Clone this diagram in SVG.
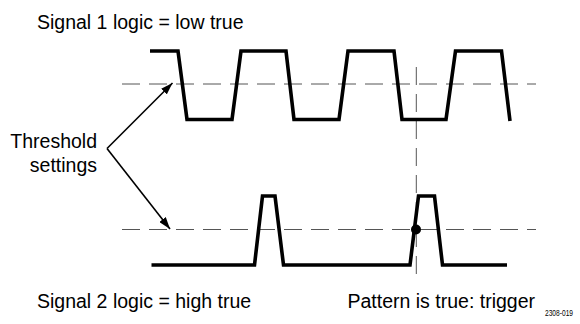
<svg xmlns="http://www.w3.org/2000/svg" width="580" height="324" viewBox="0 0 580 324">
<defs>
<style>
.txt{font-family:"Liberation Sans",Arial,sans-serif;font-size:19.5px;fill:#000}
.wave{fill:none;stroke:#000;stroke-width:3.6;stroke-linejoin:miter;stroke-linecap:butt}
.dash{fill:none;stroke:#555;stroke-width:1;stroke-dasharray:18 9}
.arr{fill:none;stroke:#000;stroke-width:1.6}
</style>
<marker id="ah" viewBox="0 0 12 8" refX="12" refY="4" markerWidth="12" markerHeight="8" markerUnits="userSpaceOnUse" orient="auto">
<path d="M0,0 L12,4 L0,8 Z" fill="#000"/>
</marker>
</defs>
<rect width="580" height="324" fill="#fff"/>
<g id="thresholds">
<line class="dash" x1="122" y1="84" x2="536" y2="84"/>
<line class="dash" x1="122" y1="229.5" x2="536" y2="229.5"/>
<line class="dash" x1="416.3" y1="67" x2="416.3" y2="278"/>
</g>
<g id="signal1">
<path class="wave" d="M150,51 L178,51 L187,119.5 L232,119.5 L241,51 L286,51 L294,119.5 L339,119.5 L348,51 L394,51 L402,119.5 L446,119.5 L455.5,51 L501.5,51 L510,121"/>
</g>
<g id="signal2">
<path class="wave" d="M151.5,265 L254.5,265 L262.5,196 L275,196 L283.5,265 L410,265 L418.5,196 L434.5,196 L442.5,265 L507,265"/>
<circle cx="416" cy="229.5" r="5" fill="#000"/>
</g>
<g id="connectors">
<line class="arr" x1="107" y1="148.5" x2="172.5" y2="83" marker-end="url(#ah)"/>
<line class="arr" x1="107" y1="148.5" x2="170" y2="229" marker-end="url(#ah)"/>
</g>
<g id="labels">
<text class="txt" x="37" y="28.5">Signal 1 logic = low true</text>
<text class="txt" x="97" y="148" text-anchor="end">Threshold</text>
<text class="txt" x="97" y="171.5" text-anchor="end">settings</text>
<text class="txt" x="37" y="308">Signal 2 logic = high true</text>
<text class="txt" x="347.5" y="308">Pattern is true: trigger</text>
<text x="545" y="316" font-family="Liberation Sans, Arial, sans-serif" font-size="8.5" textLength="28" lengthAdjust="spacingAndGlyphs" fill="#000">2308-019</text>
</g>
</svg>
